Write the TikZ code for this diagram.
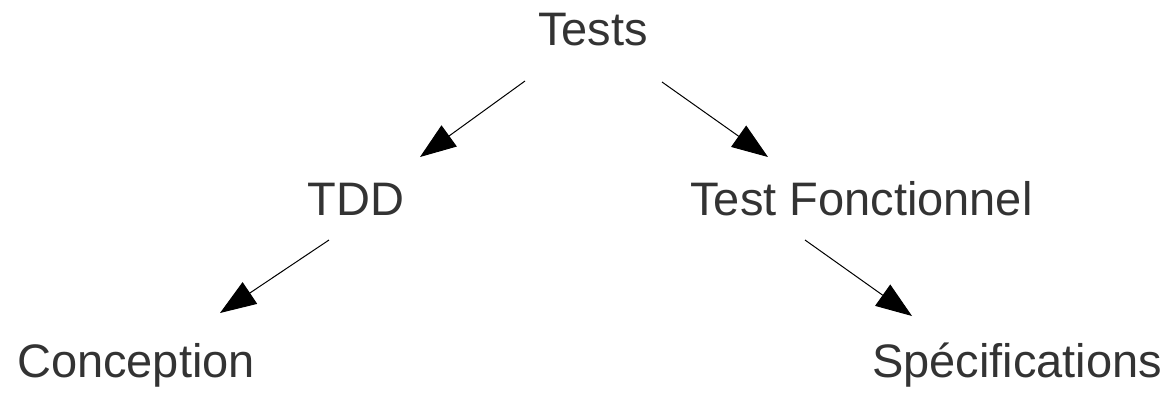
\documentclass[tikz,border=0pt]{standalone}
\usepackage{fontspec}
\setmainfont{Liberation Sans}
\usetikzlibrary{arrows.meta}
\definecolor{txt}{HTML}{333333}
\begin{document}
\begin{tikzpicture}[x=1pt,y=-1pt,
  lbl/.style={anchor=base, inner sep=0pt, text=txt, font=\fontsize{47}{54}\selectfont},
  arr/.style={-{Triangle[length=36pt,width=26pt]}, line width=1pt, black}]
\useasboundingbox (0,0) rectangle (1172,392);
\node[lbl] (tests) at (593,45) {Tests};
\node[lbl] (tdd) at (356,215) {TDD};
\node[lbl] (tf) at (861.5,215) {Test Fonctionnel};
\node[lbl] (conc) at (136,377) {Conception};
\node[lbl] (spec) at (1017,377) {Spécifications};
\coordinate (a1) at (525,81); \coordinate (b1) at (420,157);
\coordinate (a2) at (662,82); \coordinate (b2) at (768,157);
\coordinate (a3) at (329,240); \coordinate (b3) at (220,313);
\coordinate (a4) at (805,240); \coordinate (b4) at (912,316);
\draw[arr] (a1) -- (b1);
\draw[arr] (a2) -- (b2);
\draw[arr] (a3) -- (b3);
\draw[arr] (a4) -- (b4);
\end{tikzpicture}
\end{document}
